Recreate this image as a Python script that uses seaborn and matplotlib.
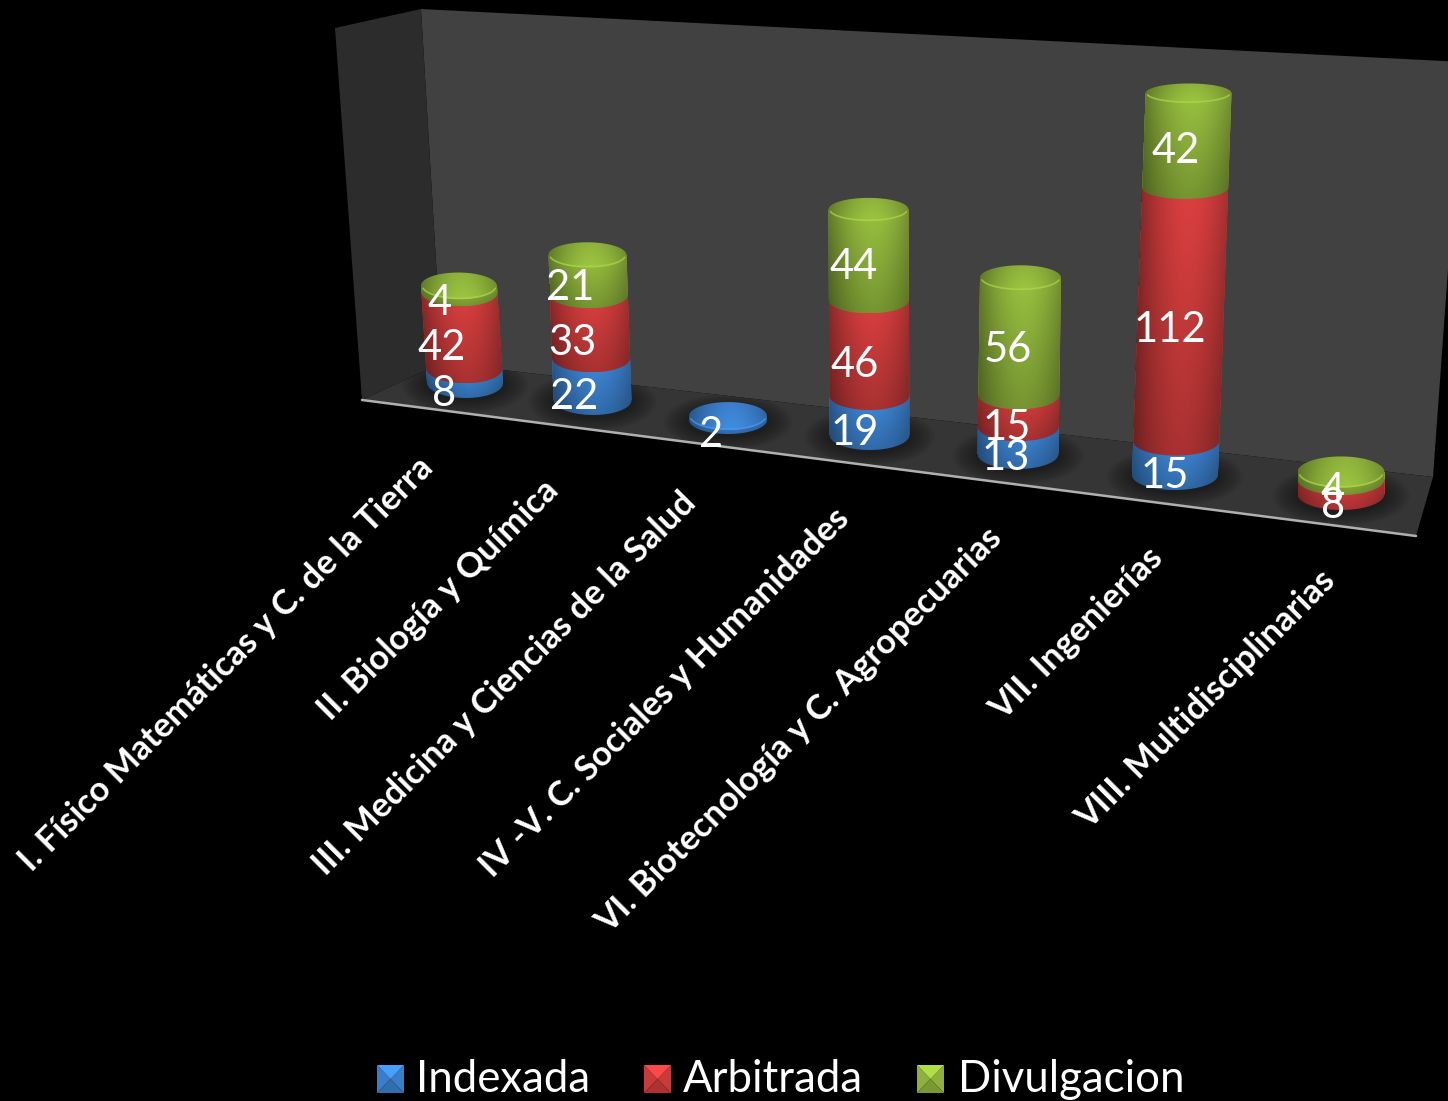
import matplotlib
matplotlib.use("Agg")
import matplotlib.pyplot as plt
import numpy as np
import pandas as pd
import seaborn as sns
from matplotlib.path import Path
from matplotlib.patches import Polygon, Ellipse
from matplotlib.transforms import Affine2D

# =============================================================================
# DATOS
# =============================================================================
areas = [
    "I. Físico Matemáticas y C. de la Tierra",
    "II. Biología y Química",
    "III. Medicina y Ciencias de la Salud",
    "IV -V. C. Sociales y Humanidades",
    "VI. Biotecnología y C. Agropecuarias",
    "VII. Ingenierías",
    "VIII. Multidisciplinarias",
]
series = ["Indexada", "Arbitrada", "Divulgacion"]
indexada = [8, 22, 2, 19, 13, 15, 0]
arbitrada = [42, 33, 0, 46, 15, 112, 8]
divulgacion = [4, 21, 0, 44, 56, 42, 4]

# =============================================================================
# GEOMETRIA DE LA VISTA 3D (pixeles de la imagen)
# =============================================================================
ANCHO, ALTO = 1448, 1101
centro_base = [465, 592.5, 728, 869.5, 1018, 1175, 1341]
centro_tope = [459, 587.5, 728, 868.5, 1020.5, 1188.5, 1341]
anchos = [76, 78, 78, 80, 81, 86, 87]
y_base = [383, 400, 420, 435, 454, 475, 494]
px_por_unidad = [1.8, 1.91, 2.0, 2.07, 2.1, 2.26, 1.83]
semi_elipse = [15, 15, 14, 15, 15, 15, 16]
dx_etiqueta = [-20, -18, -17, -15, -12, -11, -8]
fin_etiqueta = [(428, 463), (553, 485), (691, 498), (844, 513), (997, 533), (1158, 553), (1330, 575)]

colores = {
    "Indexada": (0.24, 0.52, 0.83),
    "Arbitrada": (0.83, 0.24, 0.24),
    "Divulgacion": (0.58, 0.73, 0.24),
}

sns.set_theme(style="dark")
plt.rcParams["font.family"] = ["Lato", "DejaVu Sans"]

df = pd.DataFrame({"Indexada": indexada, "Arbitrada": arbitrada, "Divulgacion": divulgacion}, index=areas)

fig = plt.figure(figsize=(ANCHO / 100, ALTO / 100), dpi=100, facecolor="black")

# ---- paredes y piso ----
fondo = fig.add_axes([0, 0, 1, 1])
fondo.set_xlim(0, ANCHO)
fondo.set_ylim(ALTO, 0)
fondo.set_axis_off()
fondo.add_patch(Polygon([(421, 9), (1463, 62), (1433, 477), (442, 363)], fc="#414141", ec="none", zorder=1))
lateral = Polygon([(335, 28), (421, 9), (442, 363), (362, 400)], fc="#2c2c2c", ec="none", zorder=1)
fondo.add_patch(lateral)
piso = Polygon([(362, 400), (442, 363), (1433, 477), (1416, 536)], fc="#353535", ec="none", zorder=1)
fondo.add_patch(piso)
fondo.plot([362, 1416], [400, 536], color="#b0b0b0", lw=1.8, zorder=3)

# sombras suaves en el piso
for i in range(len(areas)):
    for k in range(10):
        sombra = Ellipse(
            (centro_base[i], y_base[i] + 2),
            anchos[i] + 50 - 5 * k,
            2 * semi_elipse[i] + 28 - 2.8 * k,
            fc="black", ec="none", alpha=0.045, zorder=2,
        )
        fondo.add_patch(sombra)
        sombra.set_clip_path(piso)


def perfil_horizontal(n=120):
    t = np.linspace(-1, 1, n)
    return 1.0 - 0.3 * np.abs(t - 0.1) ** 1.8


def pintar(ax, ruta, extent, rgb, trans, z, claro=1.04, oscuro=0.8):
    # gradiente de cilindro recortado a la forma del segmento
    h = perfil_horizontal()
    v = np.linspace(oscuro, claro, 80)
    img = np.ones((80, 120, 3))
    for c in range(3):
        img[:, :, c] = np.clip(rgb[c] * np.outer(v, h), 0, 1)
    im = ax.imshow(img, extent=extent, origin="lower", aspect="auto", zorder=z, interpolation="bilinear")
    im.set_transform(trans)
    im.set_clip_path(ruta, trans)
    return im


def arco(cx, ancho, y, semi, desde, hasta, n=40):
    ang = np.linspace(desde, hasta, n)
    return np.column_stack([cx + ancho / 2 * np.cos(ang), y + semi * np.sin(ang)])


# =============================================================================
# COLUMNAS APILADAS (un eje por columna: cada una tiene su propia escala)
# =============================================================================
for i, area in enumerate(areas):
    ax = fig.add_axes([0, 0, 1, 1], facecolor="none")
    s = px_por_unidad[i]
    total = df.loc[area].sum()
    inclinacion = (centro_tope[i] - centro_base[i]) / total
    trans = Affine2D.from_values(1, 0, inclinacion, 1, 0, 0) + ax.transData
    cx = centro_base[i]
    w = anchos[i]
    acumulado = 0
    z = 5.0
    ultimo = None
    for serie in series:
        valor = df.loc[area, serie]
        if valor == 0:
            continue
        sns.barplot(
            x=[cx], y=[valor], bottom=acumulado, native_scale=True, width=w,
            color=colores[serie], saturation=1, errorbar=None, ax=ax, zorder=z,
            linewidth=0, edgecolor="none",
        )
        barra = ax.patches[-1]
        barra.set_transform(trans)
        y0 = barra.get_y()
        y1 = y0 + barra.get_height()
        semi = (semi_elipse[i] - 0.032 * y0) / s
        puntos = np.vstack([[(cx - w / 2, y1), (cx + w / 2, y1)], arco(cx, w, y0, semi, 0, -np.pi)])
        ruta = Path(np.vstack([puntos, puntos[:1]]), closed=True)
        pintar(ax, ruta, [cx - w / 2, cx + w / 2, y0 - semi, y1], colores[serie], trans, z + 0.1)
        medio = y0 + valor / 2
        semi_m = (semi_elipse[i] - 0.032 * medio) / s
        x_texto = cx + inclinacion * medio + dx_etiqueta[i]
        bajar = 0 if (y1 == total and y0 > 0) else 3
        ax.text(x_texto, medio - semi_m - bajar / s, str(valor), color="white", fontsize=30, ha="center", va="center", zorder=20)
        acumulado = y1
        ultimo = serie
        z += 1

    # tapa superior
    semi = (semi_elipse[i] - 0.032 * acumulado) / s
    tapa = Path(np.vstack([arco(cx, w, acumulado, semi, 0, 2 * np.pi, 80)]), closed=True)
    tapa_rgb = np.clip(np.array(colores[ultimo]) * 1.04, 0, 1)
    pintar(ax, tapa, [cx - w / 2, cx + w / 2, acumulado - semi, acumulado + semi], tapa_rgb, trans, z + 0.2, claro=0.92, oscuro=1.02)
    borde = arco(cx, w * 0.97, acumulado, semi * 0.95, -0.2, -np.pi + 0.2)
    ax.plot(borde[:, 0], borde[:, 1], color=tuple(np.clip(tapa_rgb * 1.12, 0, 1)), lw=1.2, alpha=0.7, zorder=z + 0.3, transform=trans)

    ax.set_xlim(0, ANCHO)
    ax.set_ylim((y_base[i] - ALTO) / s, y_base[i] / s)
    ax.set_axis_off()

# =============================================================================
# ETIQUETAS Y LEYENDA
# =============================================================================
for area, (x, y) in zip(areas, fin_etiqueta):
    fondo.text(x, y, area, color="white", fontsize=24.9, fontweight="bold", rotation=45,
               rotation_mode="anchor", ha="right", va="center", zorder=10)

x_cuadro = [377, 644, 917]
x_texto_ley = [416, 683, 958]
for serie, xc, xt in zip(series, x_cuadro, x_texto_ley):
    rgb = np.array(colores[serie])
    y0, y1 = 1065, 1093
    x1 = xc + 27
    xm, ym = xc + 13.5, (y0 + y1) / 2
    caras = [
        ([(xc, y0), (xc, y1), (xm, ym)], 0.95),
        ([(x1, y0), (x1, y1), (xm, ym)], 0.95),
        ([(xc, y1), (x1, y1), (xm, ym)], 0.82),
        ([(xc, y0), (x1, y0), (xm, ym)], 1.2),
    ]
    for pts, f in caras:
        fondo.add_patch(Polygon(pts, fc=tuple(np.clip(rgb * f, 0, 1)), ec="none", zorder=5))
    fondo.text(xt, 1079, serie, color="white", fontsize=31.5, ha="left", va="center", zorder=10)

fig.savefig("out.png", dpi=100, facecolor="black")
plt.close(fig)
